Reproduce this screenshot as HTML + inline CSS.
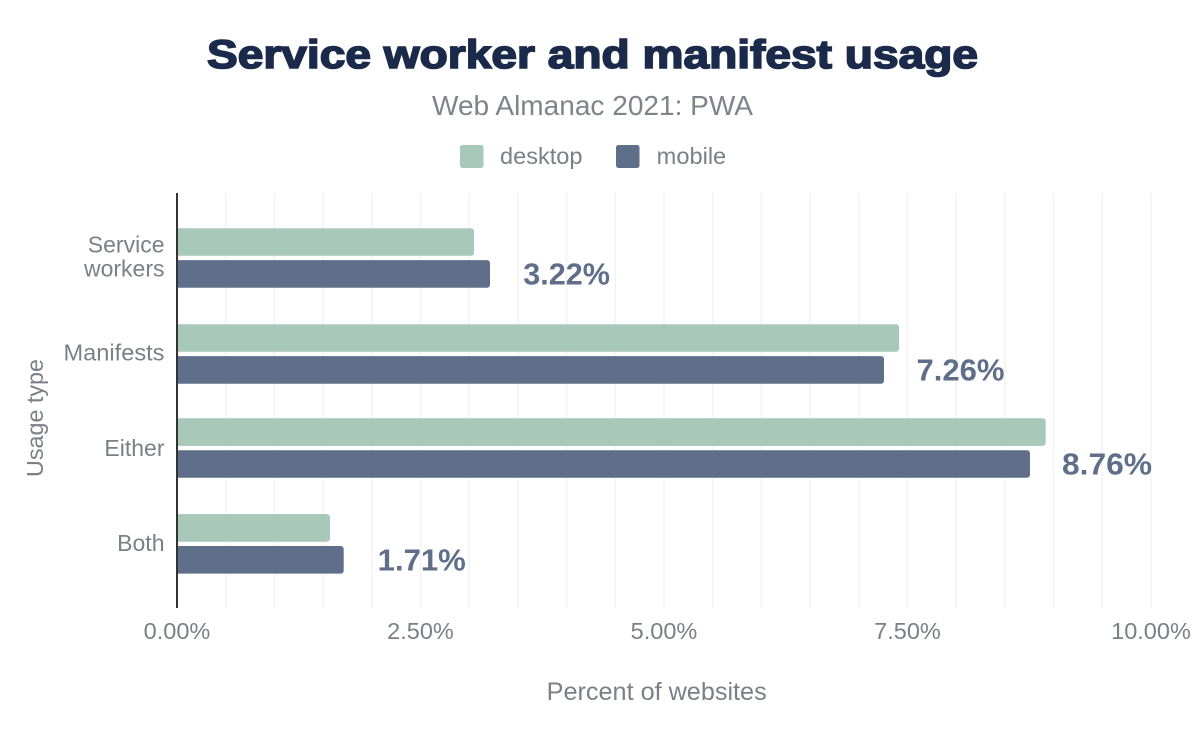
<!DOCTYPE html>
<html>
<head>
<meta charset="utf-8">
<style>
html,body{margin:0;padding:0;background:#fff;}
svg{display:block;}
text{font-family:"Liberation Sans",Arial,sans-serif;}
</style>
</head>
<body>
<svg width="1200" height="742" viewBox="0 0 1200 742" xmlns="http://www.w3.org/2000/svg">
  <rect x="0" y="0" width="1200" height="742" fill="#ffffff"/>

  <!-- Title -->
  <text x="207" y="68" font-size="39.5" font-weight="700" fill="#1b2a4a" stroke="#1b2a4a" stroke-width="1.6" textLength="771" lengthAdjust="spacingAndGlyphs">Service worker and manifest usage</text>
  <!-- Subtitle -->
  <text x="432" y="115" font-size="28" fill="#7f838a" textLength="321" lengthAdjust="spacingAndGlyphs">Web Almanac 2021: PWA</text>

  <!-- Legend -->
  <rect x="460" y="145" width="23.5" height="23" rx="2.5" fill="#a8c9ba"/>
  <text x="500" y="164" font-size="23.5" fill="#7b7f86" textLength="82.5" lengthAdjust="spacingAndGlyphs">desktop</text>
  <rect x="616" y="145" width="23.5" height="23" rx="2.5" fill="#5f6f8a"/>
  <text x="656.7" y="164" font-size="23.5" fill="#7b7f86" textLength="69.5" lengthAdjust="spacingAndGlyphs">mobile</text>

  <!-- Gridlines -->
  <g stroke="#f3f3f3" stroke-width="1.6">
    <line x1="225.7" y1="193" x2="225.7" y2="608"/>
    <line x1="274.4" y1="193" x2="274.4" y2="608"/>
    <line x1="323.1" y1="193" x2="323.1" y2="608"/>
    <line x1="371.8" y1="193" x2="371.8" y2="608"/>
    <line x1="420.5" y1="193" x2="420.5" y2="608"/>
    <line x1="469.2" y1="193" x2="469.2" y2="608"/>
    <line x1="517.9" y1="193" x2="517.9" y2="608"/>
    <line x1="566.6" y1="193" x2="566.6" y2="608"/>
    <line x1="615.3" y1="193" x2="615.3" y2="608"/>
    <line x1="664.0" y1="193" x2="664.0" y2="608"/>
    <line x1="712.7" y1="193" x2="712.7" y2="608"/>
    <line x1="761.4" y1="193" x2="761.4" y2="608"/>
    <line x1="810.1" y1="193" x2="810.1" y2="608"/>
    <line x1="858.8" y1="193" x2="858.8" y2="608"/>
    <line x1="907.5" y1="193" x2="907.5" y2="608"/>
    <line x1="956.2" y1="193" x2="956.2" y2="608"/>
    <line x1="1004.9" y1="193" x2="1004.9" y2="608"/>
    <line x1="1053.6" y1="193" x2="1053.6" y2="608"/>
    <line x1="1102.3" y1="193" x2="1102.3" y2="608"/>
    <line x1="1151.0" y1="193" x2="1151.0" y2="608"/>
  </g>

  <!-- Bars (square left edge at axis, rounded right corners) -->
  <!-- Service workers -->
  <path d="M178 228.2 H471 a3 3 0 0 1 3 3 V252.8 a3 3 0 0 1 -3 3 H178 Z" fill="#a8c9ba"/>
  <path d="M178 260.1 H487 a3 3 0 0 1 3 3 V284.7 a3 3 0 0 1 -3 3 H178 Z" fill="#5f6f8a"/>
  <!-- Manifests -->
  <path d="M178 324.2 H896 a3 3 0 0 1 3 3 V348.8 a3 3 0 0 1 -3 3 H178 Z" fill="#a8c9ba"/>
  <path d="M178 356.1 H881 a3 3 0 0 1 3 3 V380.7 a3 3 0 0 1 -3 3 H178 Z" fill="#5f6f8a"/>
  <!-- Either -->
  <path d="M178 418.3 H1042.7 a3 3 0 0 1 3 3 V442.9 a3 3 0 0 1 -3 3 H178 Z" fill="#a8c9ba"/>
  <path d="M178 450.2 H1027 a3 3 0 0 1 3 3 V474.8 a3 3 0 0 1 -3 3 H178 Z" fill="#5f6f8a"/>
  <!-- Both -->
  <path d="M178 514.1 H327 a3 3 0 0 1 3 3 V538.7 a3 3 0 0 1 -3 3 H178 Z" fill="#a8c9ba"/>
  <path d="M178 546 H340.7 a3 3 0 0 1 3 3 V570.6 a3 3 0 0 1 -3 3 H178 Z" fill="#5f6f8a"/>

  <!-- Axis line -->
  <line x1="177" y1="193" x2="177" y2="608" stroke="#333333" stroke-width="2"/>

  <!-- Data labels -->
  <g font-size="31" font-weight="700" fill="#5f6f8a">
    <text x="523.3" y="284.5" textLength="86.7" lengthAdjust="spacingAndGlyphs">3.22%</text>
    <text x="916.5" y="380.5" textLength="88" lengthAdjust="spacingAndGlyphs">7.26%</text>
    <text x="1062" y="474.5" textLength="90" lengthAdjust="spacingAndGlyphs">8.76%</text>
    <text x="377.7" y="570.5" textLength="88" lengthAdjust="spacingAndGlyphs">1.71%</text>
  </g>

  <!-- Category labels -->
  <g font-size="23" fill="#7b7f86" text-anchor="end">
    <text x="164.5" y="252.7">Service</text>
    <text x="164.5" y="276.7">workers</text>
    <text x="164.5" y="360.7" textLength="101" lengthAdjust="spacingAndGlyphs">Manifests</text>
    <text x="164.5" y="456">Either</text>
    <text x="164.5" y="551">Both</text>
  </g>

  <!-- Y axis title -->
  <text x="0" y="0" font-size="23.5" fill="#7b7f86" text-anchor="middle" transform="translate(43,418) rotate(-90)" textLength="118" lengthAdjust="spacingAndGlyphs">Usage type</text>

  <!-- X tick labels -->
  <g font-size="23.5" fill="#7b7f86" text-anchor="middle">
    <text x="177" y="639">0.00%</text>
    <text x="420.5" y="639">2.50%</text>
    <text x="664" y="639">5.00%</text>
    <text x="907.5" y="639">7.50%</text>
    <text x="1151" y="639">10.00%</text>
  </g>

  <!-- X axis title -->
  <text x="546.7" y="700" font-size="25" fill="#7b7f86" textLength="220" lengthAdjust="spacingAndGlyphs">Percent of websites</text>
</svg>
</body>
</html>
